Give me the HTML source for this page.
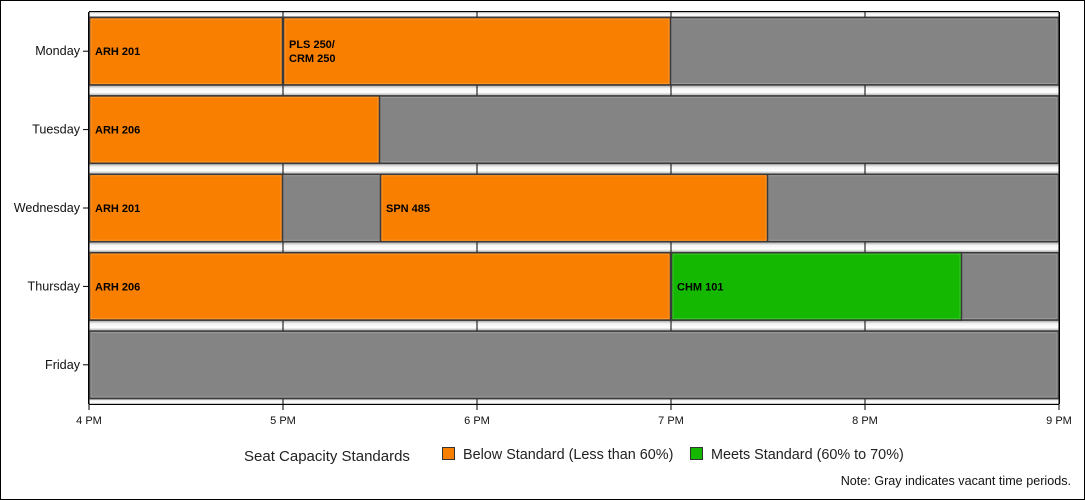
<!DOCTYPE html>
<html><head><meta charset="utf-8"><style>
body{margin:0;background:#fff;}
svg{display:block;font-family:"Liberation Sans",sans-serif;}
</style></head><body>
<svg id="chart" width="1085" height="500">
<rect x="0.5" y="0.5" width="1084" height="499" fill="#fff" stroke="#000"/>
<defs>
<linearGradient id="gap" x1="0" y1="0" x2="0" y2="1">
<stop offset="0" stop-color="#a8a8a8"/><stop offset="0.3" stop-color="#f4f4f4"/><stop offset="0.7" stop-color="#ffffff"/><stop offset="1" stop-color="#b0b0b0"/>
</linearGradient>
</defs>
<g id="plot"></g>
<g id="legend">
<text x="244" y="461" font-size="15" fill="#222">Seat Capacity Standards</text>
<rect x="442.5" y="447.5" width="12" height="12" fill="#f87f00" stroke="#333"/>
<text x="463" y="459" font-size="14.4" fill="#222">Below Standard (Less than 60%)</text>
<rect x="690.5" y="447.5" width="12" height="12" fill="#14b800" stroke="#333"/>
<text x="711" y="459" font-size="14.4" fill="#222">Meets Standard (60% to 70%)</text>
</g>
<text x="1071" y="485" font-size="12.6" text-anchor="end" fill="#111">Note: Gray indicates vacant time periods.</text>
</svg>
<script>
const days = ["Monday","Tuesday","Wednesday","Thursday","Friday"];
const segDay = [0,0,1,2,2,3,3];
const segStart = [16,17,16,16,17.5,16,19];
const segEnd = [17,19,17.5,17,19.5,19,20.5];
const segLabel = [["ARH 201"],["PLS 250/","CRM 250"],["ARH 206"],["ARH 201"],["SPN 485"],["ARH 206"],["CHM 101"]];
const segStatus = ["below","below","below","below","below","below","meets"];
const tickHours = [16,17,18,19,20,21];
const tickLabels = ["4 PM","5 PM","6 PM","7 PM","8 PM","9 PM"];
const xMin = 16, xMax = 21;

const NS = "http://www.w3.org/2000/svg";
const L = 89, R = 1059, T = 12, B = 404;
const rowH = (B - T) / days.length;
const x = h => L + (h - xMin) / (xMax - xMin) * (R - L);
const rowTop = i => T + i * rowH + 5;
const barH = rowH - 10;
const colors = {below:"#f87f00", meets:"#14b800", vacant:"#848484"};
const plot = document.getElementById("plot");
function mk(tag, attrs, parent){const e=document.createElementNS(NS,tag);for(const k in attrs)e.setAttribute(k,attrs[k]);(parent||plot).appendChild(e);return e;}

const bg = mk("rect",{x:L,y:T,width:R-L,height:B-T,fill:"#fff"});


for(let i=0;i<=days.length;i++){
  const y0 = i===0?T:rowTop(i-1)+barH;
  const y1 = i===days.length?B:rowTop(i);
  const g = mk("rect",{x:L,y:y0,width:R-L,height:y1-y0,fill:"url(#gap)"});
  
  
}
tickHours.forEach(h=>{
  const l = mk("line",{x1:x(h),x2:x(h),y1:T,y2:B,stroke:"#000","stroke-width":1});
  
  
});
function bar(x0,x1,y,fill,name){
  const r = mk("rect",{x:x0+0.5,y:y+0.5,width:x1-x0-1,height:barH-1,fill:fill,stroke:"#3a3a3a","stroke-width":1.5});
  
  
  mk("rect",{x:x0+2,y:y+2,width:x1-x0-4,height:barH-4,fill:"none",stroke:"rgba(255,255,255,0.18)","stroke-width":1});
  return r;
}
days.forEach((d,i)=>{ bar(L,R,rowTop(i),colors.vacant,'vacant-bar-'+d.toLowerCase()); });
segDay.forEach((d,k)=>{
  const x0=x(segStart[k]), x1=x(segEnd[k]);
  bar(x0,x1,rowTop(d),colors[segStatus[k]],'class-bar-'+k);
  const lines = segLabel[k];
  const cy = rowTop(d)+barH/2;
  lines.forEach((s,j)=>{
    const t = mk("text",{x:x0+6,y:cy+4+(j-(lines.length-1)/2)*14,"font-size":11,"font-weight":"bold",fill:"#000"});
    t.textContent = s;
    
    
  });
});
const ax = mk("line",{x1:L-0.5,x2:L-0.5,y1:T,y2:B,stroke:"#000"});


const bx = mk("line",{x1:L,x2:R,y1:B+0.5,y2:B+0.5,stroke:"#000"});


mk("line",{x1:L,x2:R,y1:T-0.5,y2:T-0.5,stroke:"#000"});
mk("line",{x1:R+0.5,x2:R+0.5,y1:T,y2:B,stroke:"#000"});
days.forEach((d,i)=>{
  const cy = rowTop(i)+barH/2;
  mk("line",{x1:L-6,x2:L,y1:cy,y2:cy,stroke:"#000"});
  const t = mk("text",{x:L-9,y:cy+4,"font-size":12.6,"text-anchor":"end",fill:"#111"});
  t.textContent = d;
  
  
});
tickHours.forEach((h,i)=>{
  mk("line",{x1:x(h),x2:x(h),y1:B,y2:B+6,stroke:"#000"});
  const t = mk("text",{x:x(h),y:B+20,"font-size":11,"text-anchor":"middle",fill:"#111"});
  t.textContent = tickLabels[i];
  
  
});
</script>
</body></html>
